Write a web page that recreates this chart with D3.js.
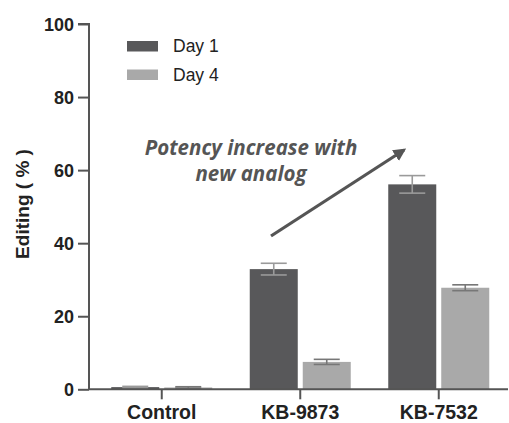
<!DOCTYPE html>
<html>
<head>
<meta charset="utf-8">
<script src="https://cdn.jsdelivr.net/npm/d3@7"></script>
<style>
  html, body { margin: 0; padding: 0; background: #fff; }
  svg { display: block; }
</style>
</head>
<body>
<svg id="chart"></svg>
<script>
const CATEGORIES = ["Control", "KB-9873", "KB-7532"];
const SERIES = ["Day 1", "Day 4"];
const DAY1 = [0.6, 32.9, 56.1];
const DAY1_ERR = [0.2, 1.6, 2.4];
const DAY4 = [0.5, 7.5, 27.8];
const DAY4_ERR = [0.2, 0.7, 0.8];
const Y_TICKS = [0, 20, 40, 60, 80, 100];

const WIDTH = 509;
const HEIGHT = 423;
const AXIS_X = 89;
const AXIS_Y = 389.3;
const DARK = "#58585a";
const LIGHT = "#a9a9a9";
const AXIS_COLOR = "#555";
const TEXT_COLOR = "#222";

const rows = CATEGORIES.map((cat, i) => ({
  cat,
  values: [
    { series: SERIES[0], value: DAY1[i], err: DAY1_ERR[i] },
    { series: SERIES[1], value: DAY4[i], err: DAY4_ERR[i] }
  ]
}));

const svg = d3.select("#chart").attr("width", WIDTH).attr("height", HEIGHT);

const x = d3.scaleBand().domain(CATEGORIES).range([92.5, 508]);
const xInner = d3.scaleBand().domain(SERIES)
  .range([x.bandwidth() / 2 - 50.5, x.bandwidth() / 2 + 50.5])
  .paddingInner(0.094);
const y = d3.scaleLinear().domain([0, 100]).range([AXIS_Y, 24]);
const color = d3.scaleOrdinal().domain(SERIES).range([DARK, LIGHT]);
const errColor = d3.scaleOrdinal().domain(SERIES).range(["#9a9a9a", "#777"]);

// bars
const groups = svg.selectAll(".grp")
  .data(rows)
  .join("g")
  .attr("class", "grp")
  .attr("transform", (d) => `translate(${x(d.cat)},0)`);

groups.selectAll("rect")
  .data((d) => d.values)
  .join("rect")
  .attr("x", (d) => xInner(d.series))
  .attr("width", xInner.bandwidth())
  .attr("y", (d) => y(d.value))
  .attr("height", (d) => AXIS_Y - y(d.value))
  .attr("fill", (d) => color(d.series));

// error bars
const errs = groups.selectAll(".err")
  .data((d) => d.values)
  .join("g")
  .attr("class", "err")
  .attr("stroke", (d) => errColor(d.series))
  .attr("stroke-width", 1.6);

errs.append("line")
  .attr("x1", (d) => xInner(d.series) + xInner.bandwidth() / 2)
  .attr("x2", (d) => xInner(d.series) + xInner.bandwidth() / 2)
  .attr("y1", (d) => y(d.value - d.err))
  .attr("y2", (d) => y(d.value + d.err));

[1, -1].forEach((sign) => {
  errs.append("line")
    .attr("x1", (d) => xInner(d.series) + xInner.bandwidth() / 2 - 13)
    .attr("x2", (d) => xInner(d.series) + xInner.bandwidth() / 2 + 13)
    .attr("y1", (d) => y(d.value + sign * d.err))
    .attr("y2", (d) => y(d.value + sign * d.err));
});

// y axis
const yAxis = svg.append("g")
  .attr("transform", `translate(${AXIS_X},0)`)
  .call(d3.axisLeft(y).tickValues(Y_TICKS).tickSize(11).tickPadding(4));
yAxis.select(".domain").attr("stroke", AXIS_COLOR).attr("stroke-width", 2)
  .attr("d", `M-11,${y(100)}H0V${AXIS_Y}`);
yAxis.selectAll(".tick line").attr("stroke", AXIS_COLOR).attr("stroke-width", 2);
yAxis.selectAll(".tick text")
  .attr("fill", TEXT_COLOR)
  .attr("font-family", "Liberation Sans, Arial, sans-serif")
  .attr("font-weight", "bold")
  .attr("font-size", 18)
  .attr("dy", "0.36em");

// x axis
const xAxis = svg.append("g")
  .attr("transform", `translate(0,${AXIS_Y})`)
  .call(d3.axisBottom(x).tickSize(10).tickPadding(6).tickSizeOuter(0));
xAxis.select(".domain").attr("stroke", AXIS_COLOR).attr("stroke-width", 2)
  .attr("d", `M${AXIS_X},0H508`);
xAxis.selectAll(".tick line").attr("stroke", AXIS_COLOR).attr("stroke-width", 2);
xAxis.selectAll(".tick text")
  .attr("fill", TEXT_COLOR)
  .attr("font-family", "Liberation Sans, Arial, sans-serif")
  .attr("font-weight", "bold")
  .attr("font-size", 19.5)
  .attr("dy", "0.71em");

// y title
svg.append("text")
  .attr("transform", `translate(29,204) rotate(-90)`)
  .attr("text-anchor", "middle")
  .attr("fill", TEXT_COLOR)
  .attr("font-family", "Liberation Sans, Arial, sans-serif")
  .attr("font-weight", "bold")
  .attr("font-size", 19)
  .text("Editing ( % )");

// legend
const legend = svg.append("g").attr("transform", "translate(127,41)");
const items = legend.selectAll("g")
  .data(SERIES)
  .join("g")
  .attr("transform", (d, i) => `translate(0,${i * 28.5})`);
items.append("rect").attr("width", 31).attr("height", 10.5).attr("fill", (d) => color(d));
items.append("text")
  .attr("x", 46)
  .attr("y", 11)
  .attr("fill", TEXT_COLOR)
  .attr("font-family", "Liberation Sans, Arial, sans-serif")
  .attr("font-size", 17.5)
  .text((d) => d);

// annotation
const defs = svg.append("defs");
defs.append("marker")
  .attr("id", "arrow")
  .attr("viewBox", "0 0 10 10")
  .attr("refX", 8)
  .attr("refY", 5)
  .attr("markerWidth", 4)
  .attr("markerHeight", 4)
  .attr("orient", "auto")
  .append("path")
  .attr("d", "M0,0L10,5L0,10Z")
  .attr("fill", AXIS_COLOR);

svg.append("line")
  .attr("x1", 271).attr("y1", 236)
  .attr("x2", 404).attr("y2", 150)
  .attr("stroke", AXIS_COLOR)
  .attr("stroke-width", 3.2)
  .attr("marker-end", "url(#arrow)");

const noteStyle = (sel) => sel
  .attr("text-anchor", "middle")
  .attr("fill", AXIS_COLOR)
  .attr("font-family", "Open Sans, sans-serif")
  .attr("font-weight", "bold")
  .attr("font-style", "italic")
  .attr("font-size", 20.5);
svg.append("text").call(noteStyle).attr("x", 251).attr("y", 155).text("Potency increase with");
svg.append("text").call(noteStyle).attr("x", 251).attr("y", 181).text("new analog");
</script>
</body>
</html>
